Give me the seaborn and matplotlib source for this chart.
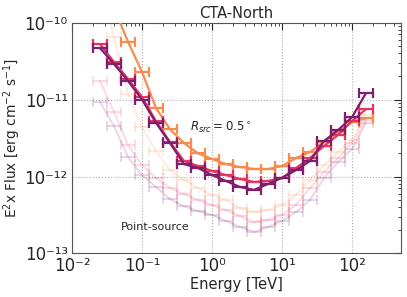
import numpy as np
import pandas as pd
import matplotlib
matplotlib.use("Agg")
import matplotlib.pyplot as plt
import matplotlib.ticker as mticker
import seaborn as sns

# Energy bin centres [TeV] (5 bins per decade)
energy = [0.0251, 0.0398, 0.0631, 0.1, 0.158, 0.251, 0.398, 0.631, 1.0, 1.585,
          2.512, 3.981, 6.31, 10.0, 15.85, 25.12, 39.81, 63.1, 100.0, 158.5]

# R_src = 0.5 deg (bold)
ext_purple = [4.67e-11, 2.89e-11, 1.74e-11, 1.0e-11, 5.0e-12, 2.72e-12, 1.45e-12, 1.29e-12,
              1.045e-12, 8.75e-13, 7.3e-13, 6.7e-13, 8.0e-13, 9.6e-13, 1.21e-12, 1.59e-12,
              2.89e-12, 4.0e-12, 5.9e-12, 1.21e-11]
ext_pink = [5.26e-11, 3.07e-11, 1.85e-11, 1.08e-11, 5.26e-12, 2.81e-12, 1.59e-12, 1.37e-12,
            1.18e-12, 1.045e-12, 9.3e-13, 8.5e-13, 8.75e-13, 9.6e-13, 1.29e-12, 1.74e-12,
            2.49e-12, 3.46e-12, 5.26e-12, 7.5e-12]
ext_orange = [np.nan, 1.54e-10, 5.63e-11, 2.28e-11, 7.8e-12, 4.1e-12, 2.72e-12, 2.0e-12,
              1.69e-12, 1.45e-12, 1.33e-12, 1.25e-12, 1.25e-12, 1.37e-12, 1.74e-12, 2.08e-12,
              2.81e-12, 3.78e-12, 5.1e-12, 5.75e-12]

# Point-source (faint)
pt_purple = [9.3e-12, 4.5e-12, 1.79e-12, 1.045e-12, 7.3e-13, 5.1e-13, 4.1e-13, 3.56e-13,
             3.16e-13, 2.64e-13, 2.21e-13, 1.9e-13, 2.21e-13, 2.64e-13, 3.46e-13, 4.95e-13,
             9.6e-13, 1.54e-12, 2.28e-12, 4.95e-12]
pt_pink = [1.74e-11, 6.9e-12, 2.56e-12, 1.41e-12, 9.6e-13, 7.1e-13, 5.9e-13, 4.95e-13,
           4.27e-13, 3.67e-13, 3.07e-13, 2.56e-13, 2.72e-13, 3.16e-13, 4.27e-13, 7.1e-13,
           1.14e-12, 1.74e-12, 2.72e-12, 5.4e-12]
pt_orange = [3.56e-10, 6.5e-11, 1.18e-11, 4.4e-12, 2.14e-12, 1.21e-12, 9.0e-13, 7.1e-13,
             5.75e-13, 4.95e-13, 3.9e-13, 3.46e-13, 3.67e-13, 4.27e-13, 5.75e-13, 9.0e-13,
             1.41e-12, 2.08e-12, 2.98e-12, 6.3e-12]

# Tick labels
x_ticks = [1e-2, 1e-1, 1e0, 1e1, 1e2]
x_ticklabels = ["10⁻²", "10⁻¹", "10⁰", "10¹", "10²"]
y_ticks = [1e-13, 1e-12, 1e-11, 1e-10]
y_ticklabels = ["10⁻¹³", "10⁻¹²", "10⁻¹¹", "10⁻¹⁰"]

colors = ["#7b1f6e", "#e8355f", "#f98b4f"]
bin_half_dex = 0.1

sns.set_style("white")
plt.rcParams["font.family"] = ["DejaVu Sans"]
plt.rcParams["mathtext.fontset"] = "dejavusans"

fig = plt.figure(figsize=(4.07, 2.97), dpi=100)
ax = fig.add_axes([0.177, 0.1465, 0.808, 0.7775])

E = np.array(energy)
xlo = E - E / 10**bin_half_dex
xhi = E * 10**bin_half_dex - E

def draw(vals, color, alpha, lw, z):
    v = np.array(vals, dtype=float)
    df = pd.DataFrame({"E": E, "F": v}).dropna()
    sns.lineplot(data=df, x="E", y="F", color=color, alpha=alpha, lw=lw, ax=ax,
                 zorder=z, legend=False)
    ax.errorbar(E, v, xerr=[xlo, xhi], fmt="none", ecolor=color, alpha=alpha,
                elinewidth=lw, capsize=3.5, capthick=lw, zorder=z)

for vals, c in zip([pt_purple, pt_pink, pt_orange], colors):
    draw(vals, c, 0.17, 1.5, 2)
for vals, c in zip([ext_orange, ext_pink, ext_purple], colors[::-1]):
    draw(vals, c, 1.0, 1.6, 3)

ax.set_xscale("log")
ax.set_yscale("log")
ax.set_xlim(1e-2, 500)
ax.set_ylim(1e-13, 1e-10)

ax.set_xticks(x_ticks)
ax.set_xticklabels(x_ticklabels)
ax.set_yticks(y_ticks)
ax.set_yticklabels(y_ticklabels)
for axis in (ax.xaxis, ax.yaxis):
    axis.set_minor_locator(mticker.LogLocator(base=10, subs=np.arange(2, 10), numticks=20))
    axis.set_minor_formatter(mticker.NullFormatter())

ax.grid(True, which="major", ls=":", color="#aaaaaa", lw=0.8)
ax.tick_params(which="both", direction="in", top=True, right=True, labelsize=12)
ax.tick_params(axis="x", pad=2.5)
ax.tick_params(axis="y", pad=3)
ax.tick_params(which="major", length=5)
ax.tick_params(which="minor", length=2.5)
for s in ax.spines.values():
    s.set_color("#555555")

ax.set_title("CTA-North", fontsize=10.5, pad=3)
ax.set_xlabel("Energy [TeV]", fontsize=10.5, labelpad=1.5)
ax.set_ylabel(r"E$^2$x Flux [erg cm$^{-2}$ s$^{-1}$]", fontsize=9.8, labelpad=1)
ax.text(0.48, 4.4e-12, r"$R_{src} = 0.5^\circ$", fontsize=8.5, va="center")
ax.text(0.05, 2.2e-13, "Point-source", fontsize=8, va="center")

fig.savefig("out.png", dpi=100)
